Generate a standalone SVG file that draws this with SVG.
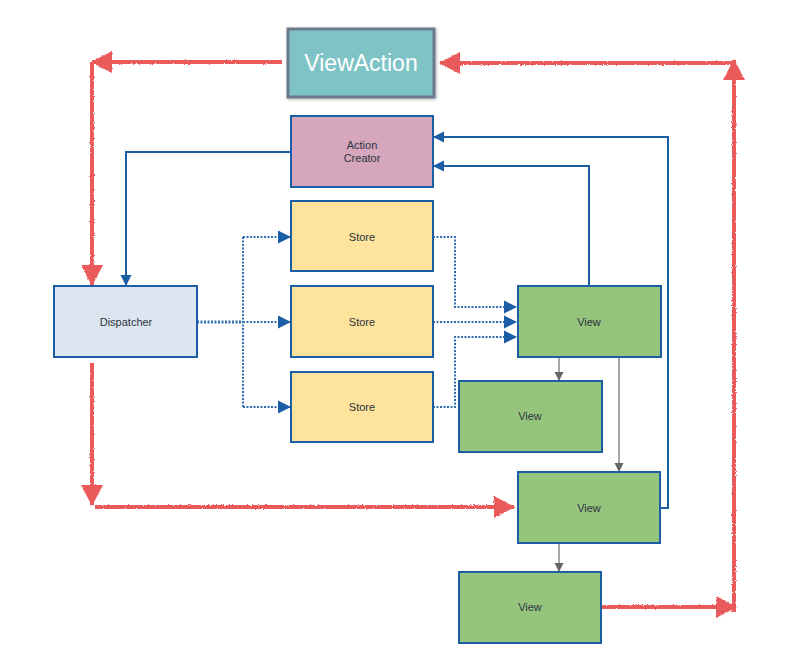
<svg xmlns="http://www.w3.org/2000/svg" width="800" height="671" viewBox="0 0 800 671">
<style>
.box{stroke:#1b5ea6;stroke-width:2}
.lbl{font-family:"Liberation Sans",Arial,sans-serif;font-size:11px;fill:#2b3440;text-anchor:middle;dominant-baseline:central}
.red{fill:none;stroke:#ea5a5a;stroke-width:4}
.blue{fill:none;stroke:#1b5ea6;stroke-width:2}
.dot{fill:none;stroke:#2f6fb2;stroke-width:2;stroke-dasharray:2 1.5}
.gray{fill:none;stroke:#8a8a8a;stroke-width:1.5}
</style>
<defs>
<filter id="rough" filterUnits="userSpaceOnUse" x="0" y="0" width="800" height="671">
<feTurbulence type="fractalNoise" baseFrequency="0.9" numOctaves="2" seed="3"/>
<feDisplacementMap in="SourceGraphic" scale="2.5" xChannelSelector="R" yChannelSelector="G"/>
</filter>
<filter id="shadow" x="-10%" y="-10%" width="130%" height="130%">
<feDropShadow dx="1" dy="1" stdDeviation="1.5" flood-color="#000" flood-opacity="0.3"/>
</filter>
<marker id="ar" markerUnits="userSpaceOnUse" markerWidth="24" markerHeight="26" viewBox="0 0 24 26" refX="21" refY="13" orient="auto">
<path d="M1 2 L22 13 L1 24 Z" fill="#ea5a5a"/>
</marker>
<marker id="ab" markerUnits="userSpaceOnUse" markerWidth="12" markerHeight="12" viewBox="0 0 12 12" refX="11" refY="6" orient="auto">
<path d="M0 0.5 L11 6 L0 11.5 Z" fill="#1b5ea6"/>
</marker>
<marker id="ad" markerUnits="userSpaceOnUse" markerWidth="14" markerHeight="14" viewBox="0 0 14 14" refX="13" refY="7" orient="auto">
<path d="M0 0.5 L13 7 L0 13.5 Z" fill="#1b5ea6"/>
</marker>
<marker id="ag" markerUnits="userSpaceOnUse" markerWidth="10" markerHeight="10" viewBox="0 0 10 10" refX="9" refY="5" orient="auto">
<path d="M0 0.5 L9 5 L0 9.5 Z" fill="#666"/>
</marker>
</defs>

<g id="connectors">
<!-- red hand-drawn flow -->
<g filter="url(#rough)">
<path class="red" d="M282 62 H92" marker-end="url(#ar)"/>
<path class="red" d="M92 62 V285" marker-end="url(#ar)"/>
<path class="red" d="M92 363 V505" marker-end="url(#ar)"/>
<path class="red" d="M95 507 H514" marker-end="url(#ar)"/>
<path class="red" d="M601 607 H736" marker-end="url(#ar)"/>
<path class="red" d="M734 612 V60" marker-end="url(#ar)"/>
<path class="red" d="M734 63 H440" marker-end="url(#ar)"/>
</g>
<!-- blue solid -->
<path class="blue" d="M291 152 H126 V286" marker-end="url(#ab)"/>
<path class="blue" d="M589 286 V166 H433" marker-end="url(#ab)"/>
<path class="blue" d="M660 508 H668 V137 H433" marker-end="url(#ab)"/>
<!-- blue dotted -->
<path class="dot" d="M197 322 H243" style="stroke-width:3"/>
<path class="dot" d="M243 237 V407"/>
<path class="dot" d="M243 237 H291" marker-end="url(#ad)"/>
<path class="dot" d="M243 322 H291" marker-end="url(#ad)"/>
<path class="dot" d="M243 407 H291" marker-end="url(#ad)"/>
<path class="dot" d="M433 237 H455 V307 H517" marker-end="url(#ad)"/>
<path class="dot" d="M433 322 H517" marker-end="url(#ad)"/>
<path class="dot" d="M433 407 H455 V337 H517" marker-end="url(#ad)"/>
<!-- gray -->
<path class="gray" d="M559 357 V381" marker-end="url(#ag)"/>
<path class="gray" d="M619 357 V472" marker-end="url(#ag)"/>
<path class="gray" d="M559 543 V572" marker-end="url(#ag)"/>
</g>

<g id="viewaction">
<rect x="288" y="29" width="146" height="68" fill="#7ec4c6" stroke="#6b7a8b" stroke-width="3" filter="url(#shadow)"/>
<text x="361" y="63" font-family="'Liberation Sans',Arial,sans-serif" font-size="23" fill="#ffffff" text-anchor="middle" dominant-baseline="central">ViewAction</text>
</g>
<g id="actioncreator">
<rect class="box" x="291" y="116" width="142" height="71" fill="#d5a6bc"/>
<text class="lbl" x="362" y="145">Action</text>
<text class="lbl" x="362" y="158">Creator</text>
</g>
<g id="dispatcher">
<rect class="box" x="54" y="286" width="143" height="71" fill="#dde5f0"/>
<text class="lbl" x="126" y="322">Dispatcher</text>
</g>
<g id="store1">
<rect class="box" x="291" y="201" width="142" height="70" fill="#fde39c"/>
<text class="lbl" x="362" y="237">Store</text>
</g>
<g id="store2">
<rect class="box" x="291" y="286" width="142" height="71" fill="#fde39c"/>
<text class="lbl" x="362" y="322">Store</text>
</g>
<g id="store3">
<rect class="box" x="291" y="372" width="142" height="70" fill="#fde39c"/>
<text class="lbl" x="362" y="407">Store</text>
</g>
<g id="view1">
<rect class="box" x="518" y="286" width="143" height="71" fill="#95c47d"/>
<text class="lbl" x="589" y="322">View</text>
</g>
<g id="view2">
<rect class="box" x="459" y="381" width="143" height="71" fill="#95c47d"/>
<text class="lbl" x="530" y="416">View</text>
</g>
<g id="view3">
<rect class="box" x="518" y="472" width="142" height="71" fill="#95c47d"/>
<text class="lbl" x="589" y="508">View</text>
</g>
<g id="view4">
<rect class="box" x="459" y="572" width="142" height="71" fill="#95c47d"/>
<text class="lbl" x="530" y="607">View</text>
</g>
</svg>
